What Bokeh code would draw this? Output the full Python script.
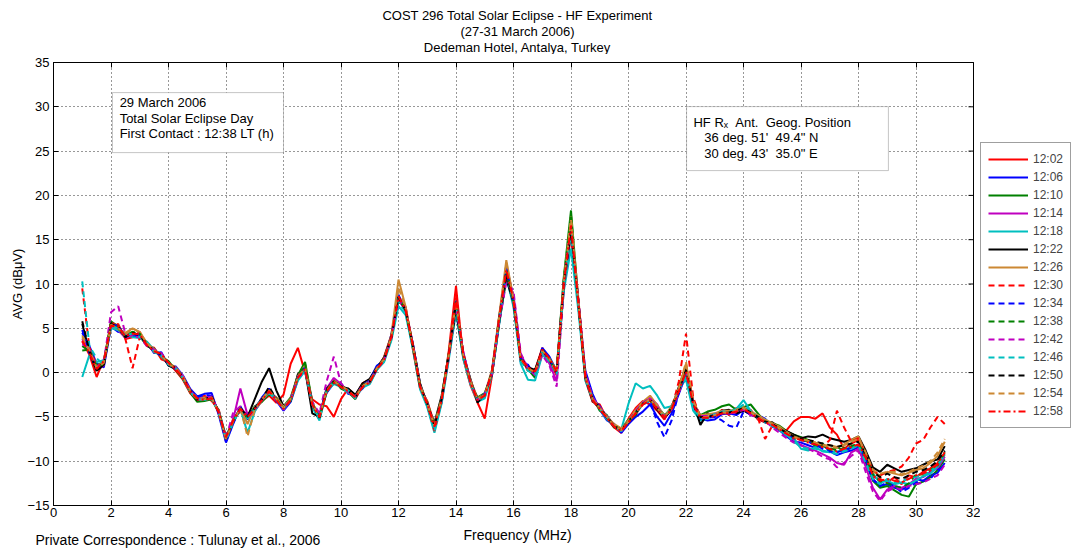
import numpy as np
from bokeh.plotting import figure
from bokeh.layouts import column, row
from bokeh.models import (Range1d, FixedTicker, LinearAxis, Legend, LegendItem,
                          Label, BoxAnnotation, CustomJSTickFormatter)
from bokeh.embed import file_html
from bokeh.resources import INLINE

# Frequency grid (MHz) shared by all spectra
freq_mhz = np.arange(1.0, 31.0001, 0.25)

time_labels = ["12:02", "12:06", "12:10", "12:14", "12:18", "12:22", "12:26", "12:30",
               "12:34", "12:38", "12:42", "12:46", "12:50", "12:54", "12:58"]

title_lines = ["COST 296 Total Solar Eclipse - HF Experiment",
               "(27-31 March 2006)",
               "Dedeman Hotel, Antalya, Turkey"]

# Average received level (dBuV) per sweep time
v1202 = [3.5, 2.0, -0.5, 1.5, 5.0, 5.5, 3.8, 4.0, 4.6, 3.0,
         2.8, 1.5, 1.2, 0.2, -0.8, -2.3, -3.2, -2.6, -3.2, -4.2,
         -7.8, -5.2, -4.4, -4.6, -4.3, -3.2, -2.6, -3.4, -2.5, 1.0,
         2.8, 0.0, -3.0, -3.6, -3.8, -5.0, -3.0, -1.8, -2.6, -1.2,
         -0.8, 0.3, 1.8, 4.2, 8.0, 7.4, 2.6, -1.8, -3.2, -5.8,
         -3.4, 2.5, 9.8, 1.6, -1.4, -3.4, -5.2, -0.4, 6.2, 11.8,
         7.6, 1.8, 0.2, 0.3, 2.8, 1.2, -0.3, 9.6, 15.5, 8.4,
         -0.8, -3.3, -3.6, -5.2, -6.2, -6.8, -5.2, -4.0, -3.2, -3.6,
         -4.3, -5.3, -3.7, -2.3, 0.5, -3.2, -5.3, -4.6, -5.0, -4.2,
         -4.8, -4.0, -4.3, -4.2, -5.3, -5.6, -6.0, -6.5, -6.5, -5.5,
         -5.0, -5.0, -5.2, -4.6, -6.2, -7.0, -8.6, -8.0, -7.6, -9.8,
         -11.8, -12.0, -12.4, -11.8, -12.6, -11.6, -11.8, -11.2, -10.8, -10.2,
         -9.3]
v1206 = [4.5, 3.0, 1.0, 0.6, 5.2, 4.6, 4.4, 4.2, 4.0, 3.4,
         2.2, 2.3, 0.8, 0.7, -0.3, -1.8, -2.7, -2.4, -2.3, -4.8,
         -7.9, -5.8, -3.8, -5.3, -4.2, -2.8, -1.8, -3.2, -4.3, -3.3,
         -0.8, 0.8, -3.8, -4.7, -2.3, -1.2, -1.2, -2.4, -2.6, -1.8,
         -0.8, 0.8, 1.3, 4.3, 8.8, 6.8, 3.3, -1.3, -3.8, -6.4,
         -3.3, 1.8, 7.6, 2.3, -0.8, -3.2, -2.8, 0.2, 5.7, 12.1,
         8.5, 1.2, 0.9, -0.4, 2.8, 1.8, 0.2, 10.4, 17.0, 7.6,
         0.2, -2.4, -4.2, -5.4, -5.8, -6.8, -5.8, -5.0, -4.4, -3.6,
         -5.0, -6.0, -4.6, -2.4, -0.2, -3.8, -5.2, -5.4, -5.3, -4.7,
         -4.6, -4.8, -4.2, -4.8, -4.8, -5.2, -6.1, -6.5, -7.2, -7.8,
         -7.9, -8.2, -8.5, -8.1, -8.9, -9.3, -9.0, -8.8, -8.4, -10.2,
         -12.0, -12.8, -12.6, -13.0, -13.2, -12.8, -12.0, -12.2, -11.6, -11.3,
         -10.2]
v1210 = [3.0, 2.4, 0.8, 1.2, 5.8, 5.2, 4.2, 4.6, 4.1, 3.0,
         2.7, 1.8, 1.3, 0.3, -0.7, -2.2, -3.3, -3.2, -3.0, -4.3,
         -7.2, -5.4, -4.2, -5.2, -3.8, -3.3, -2.4, -2.8, -3.8, -2.8,
         -0.3, 1.2, -3.3, -5.2, -2.2, -0.8, -1.8, -2.2, -3.0, -1.3,
         -1.2, 0.4, 1.6, 3.8, 8.2, 7.2, 2.8, -1.7, -3.3, -6.2,
         -2.8, 2.2, 7.8, 1.8, -1.2, -2.8, -2.3, -0.2, 6.3, 11.3,
         7.8, 1.7, 0.4, -0.6, 2.2, 1.6, 0.2, 10.8, 18.3, 8.3,
         -0.6, -2.8, -4.3, -4.8, -6.2, -6.3, -5.3, -4.8, -3.3, -3.2,
         -3.8, -4.8, -4.2, -2.2, 0.2, -3.6, -4.8, -4.4, -4.2, -3.8,
         -3.6, -4.2, -3.9, -3.6, -4.6, -5.6, -5.7, -6.0, -6.6, -7.0,
         -7.3, -7.6, -8.3, -8.0, -8.8, -8.4, -8.8, -8.5, -8.2, -10.0,
         -12.2, -13.0, -12.8, -13.3, -13.8, -14.0, -12.6, -12.3, -11.8, -11.0,
         -9.8]
v1214 = [3.2, 2.8, 0.3, 0.8, 5.3, 4.8, 3.9, 4.3, 4.4, 3.3,
         2.4, 2.1, 0.9, 0.6, -0.4, -1.9, -2.9, -2.9, -2.6, -4.6,
         -7.6, -5.3, -1.8, -4.8, -4.1, -2.9, -2.1, -2.9, -4.2, -3.1,
         -0.6, 0.3, -3.6, -4.8, -1.8, -0.6, -1.3, -2.1, -2.9, -1.6,
         -1.1, 0.6, 1.4, 4.1, 8.3, 6.9, 3.1, -1.4, -3.6, -6.3,
         -3.1, 1.9, 7.9, 2.2, -0.9, -2.9, -2.6, 0.1, 5.8, 11.0,
         8.8, 2.0, 0.6, -0.3, 2.3, 1.0, -1.0, 9.8, 16.2, 7.8,
         -0.3, -2.9, -3.9, -4.9, -5.9, -6.6, -5.6, -4.4, -3.3, -2.8,
         -3.6, -5.2, -4.1, -2.1, -0.3, -3.7, -5.1, -5.1, -4.9, -4.6,
         -4.6, -4.4, -4.1, -4.3, -5.1, -5.6, -5.9, -6.3, -7.0, -7.6,
         -8.2, -8.5, -8.8, -9.2, -9.6, -10.2, -10.4, -9.0, -8.6, -10.6,
         -13.0, -14.3, -13.2, -12.8, -13.0, -12.6, -12.0, -11.8, -11.2, -10.8,
         -9.5]
v1218 = [-0.5, 2.0, 1.2, 1.4, 5.0, 4.8, 4.3, 4.0, 3.9, 3.5,
         2.6, 1.8, 1.1, 0.4, -0.6, -2.1, -2.8, -3.1, -2.9, -4.4,
         -7.4, -5.6, -4.1, -6.8, -4.4, -3.1, -2.3, -3.1, -3.9, -3.2,
         -0.9, 0.2, -3.9, -5.4, -2.1, -1.3, -1.6, -2.3, -2.7, -1.7,
         -1.3, 0.3, 1.2, 3.6, 7.5, 6.5, 2.7, -1.9, -3.9, -6.8,
         -3.5, 1.5, 6.8, 1.6, -1.3, -3.3, -2.9, -0.3, 5.4, 10.8,
         7.4, 1.0, -0.8, -0.9, 2.0, 1.3, 0.1, 9.2, 14.0, 7.2,
         -0.9, -3.1, -4.1, -5.3, -6.0, -6.4, -3.5, -1.2, -1.8, -1.5,
         -2.6, -4.0, -3.8, -1.8, -0.8, -4.3, -5.4, -5.2, -4.6, -4.4,
         -4.4, -4.1, -3.1, -4.3, -5.2, -5.3, -6.0, -6.4, -7.1, -7.4,
         -8.6, -8.8, -8.4, -8.9, -9.0, -8.9, -8.8, -8.3, -8.2, -9.8,
         -11.4, -12.4, -12.2, -12.6, -12.4, -12.6, -12.2, -11.7, -11.4, -10.6,
         -9.2]
v1222 = [5.5, 2.3, 0.2, 0.9, 5.6, 5.1, 4.1, 4.4, 4.2, 3.1,
         2.5, 2.0, 0.8, 0.4, -0.5, -2.0, -3.1, -3.0, -2.7, -4.5,
         -7.5, -5.5, -4.0, -5.0, -3.0, -1.0, 0.5, -2.0, -3.8, -3.2,
         -0.2, 0.4, -4.6, -5.0, -1.8, -1.1, -1.6, -1.8, -2.5, -1.2,
         -0.7, 0.6, 1.7, 4.1, 8.4, 7.1, 3.2, -1.2, -3.6, -5.7,
         -2.6, 2.1, 7.0, 1.9, -0.7, -3.4, -2.4, -0.3, 5.6, 10.6,
         7.9, 1.7, 0.6, 0.3, 2.6, 1.4, 0.1, 9.8, 16.0, 8.2,
         -0.6, -3.2, -4.0, -5.1, -6.1, -6.5, -5.6, -4.6, -3.4, -3.1,
         -4.2, -5.1, -4.2, -1.6, 0.8, -3.3, -5.9, -4.6, -4.8, -4.3,
         -4.2, -4.6, -4.3, -4.7, -5.1, -5.6, -5.6, -6.2, -6.6, -7.0,
         -7.4, -7.2, -7.3, -7.0, -7.4, -7.6, -7.8, -7.6, -7.2, -8.8,
         -10.7, -11.2, -10.4, -10.8, -11.2, -11.0, -10.8, -10.4, -10.0, -9.8,
         -8.3]
v1226 = [4.2, 2.6, 0.6, 1.3, 5.4, 4.9, 4.5, 5.0, 4.6, 3.3,
         2.6, 1.9, 1.1, 0.6, -0.4, -2.1, -2.9, -2.8, -2.9, -4.4,
         -7.6, -5.4, -4.1, -5.8, -3.9, -3.1, -2.1, -2.8, -3.9, -2.9,
         -0.4, 0.8, -3.4, -4.9, -2.1, -0.9, -1.4, -2.1, -2.7, -1.4,
         -0.9, 0.5, 1.6, 4.2, 10.5, 7.4, 3.0, -1.4, -3.4, -5.9,
         -2.9, 2.2, 8.2, 2.1, -0.8, -2.9, -2.4, 0.3, 6.4, 12.7,
         8.3, 1.6, 0.4, 0.1, 2.4, 1.6, 0.2, 10.3, 17.6, 8.6,
         -0.4, -2.9, -4.0, -5.0, -5.8, -6.3, -5.4, -4.2, -3.3, -2.6,
         -3.7, -4.9, -3.8, -1.8, 1.0, -3.3, -4.8, -4.7, -4.6, -4.3,
         -4.3, -4.2, -3.9, -4.4, -4.8, -5.3, -5.7, -6.1, -6.7, -7.2,
         -7.5, -7.7, -7.9, -8.2, -8.2, -8.4, -8.1, -7.6, -7.2, -9.2,
         -11.2, -11.6, -11.2, -11.4, -11.6, -11.3, -11.0, -10.8, -10.2, -9.4,
         -7.8]
v1230 = [9.5, 2.8, 0.8, 1.0, 5.7, 5.2, 3.8, 0.5, 4.0, 3.3,
         2.3, 2.0, 1.0, 0.3, -0.6, -2.1, -3.1, -3.1, -2.9, -4.6,
         -7.4, -5.6, -4.1, -5.1, -4.1, -3.1, -2.2, -3.1, -4.1, -3.1,
         -0.6, 0.4, -3.6, -5.1, -2.1, -1.1, -1.6, -2.1, -2.9, -1.6,
         -1.1, 0.4, 1.4, 3.9, 8.6, 7.1, 3.1, -1.6, -3.6, -6.6,
         -3.1, 2.1, 8.6, 2.3, -1.1, -3.1, -2.6, -0.1, 5.9, 11.4,
         8.1, 1.4, 0.4, -0.1, 2.4, 1.4, -0.1, 10.1, 16.6, 8.1,
         -0.6, -3.1, -4.1, -5.1, -6.1, -6.6, -5.6, -4.6, -3.6, -3.1,
         -4.1, -5.1, -4.1, -1.0, 4.4, -2.8, -5.1, -5.1, -4.9, -4.6,
         -4.6, -4.4, -4.1, -4.6, -5.1, -7.5, -6.0, -6.4, -6.9, -7.4,
         -7.4, -7.9, -8.1, -8.4, -7.6, -4.3, -6.2, -7.8, -7.4, -9.2,
         -11.0, -11.6, -11.2, -11.0, -10.6, -9.6, -8.0, -7.6, -6.2, -5.0,
         -5.8]
v1234 = [4.8, 2.2, 0.4, 1.1, 5.4, 5.3, 4.1, 4.3, 4.2, 3.1,
         2.4, 1.9, 1.0, 0.4, -0.5, -1.9, -2.8, -2.5, -2.6, -4.6,
         -7.7, -5.7, -4.0, -4.9, -4.0, -3.0, -1.9, -3.0, -4.2, -3.0,
         -0.5, 0.6, -3.5, -4.9, -1.9, -1.0, -1.4, -2.0, -2.8, -1.4,
         -0.9, 0.7, 1.5, 4.0, 8.7, 7.0, 3.0, -1.5, -3.4, -6.2,
         -3.0, 2.0, 8.1, 2.0, -1.0, -3.0, -2.4, 0.0, 6.1, 11.7,
         8.0, 1.6, 0.5, -0.1, 2.5, 1.5, 0.0, 10.0, 16.4, 8.0,
         -0.5, -3.0, -3.8, -5.1, -6.1, -6.5, -5.5, -4.5, -3.6, -3.2,
         -5.6, -7.3, -5.4, -2.2, -0.2, -3.6, -5.2, -5.1, -5.0, -5.4,
         -6.0, -6.2, -4.4, -4.6, -5.0, -5.6, -5.8, -6.4, -6.8, -7.4,
         -7.6, -7.8, -8.1, -8.6, -8.9, -9.0, -8.7, -8.5, -8.1, -9.8,
         -12.1, -12.8, -12.4, -12.8, -13.5, -13.0, -12.4, -12.2, -12.0, -11.0,
         -10.5]
v1238 = [2.5, 2.6, 0.6, 1.0, 5.5, 5.0, 4.0, 4.6, 4.4, 3.2,
         2.5, 2.1, 1.0, 0.5, -0.5, -2.0, -3.0, -3.0, -2.8, -4.5,
         -7.5, -5.5, -4.0, -5.0, -4.0, -3.0, -2.0, -3.0, -4.0, -3.0,
         -0.5, 1.0, -3.5, -5.0, -2.0, -1.0, -1.5, -2.0, -2.8, -1.5,
         -1.0, 0.5, 1.5, 4.0, 8.5, 7.0, 3.0, -1.5, -3.5, -6.0,
         -3.0, 2.0, 8.0, 2.0, -1.0, -3.0, -2.5, 0.0, 6.0, 11.5,
         8.0, 1.5, 0.5, 0.0, 2.5, 1.5, 0.0, 10.5, 17.8, 8.0,
         -0.5, -3.0, -4.0, -5.0, -6.0, -6.5, -5.5, -4.5, -3.5, -3.0,
         -4.0, -5.0, -4.0, -2.0, 0.0, -3.5, -5.0, -5.0, -4.8, -4.5,
         -4.5, -4.3, -4.0, -4.5, -5.0, -5.5, -5.8, -6.3, -6.8, -7.3,
         -7.5, -7.8, -8.0, -8.3, -8.5, -8.8, -8.5, -8.3, -8.0, -9.5,
         -11.5, -12.3, -12.5, -12.8, -13.0, -12.5, -11.5, -11.5, -11.0, -10.5,
         -9.0]
v1242 = [3.8, 2.5, 0.6, 1.2, 6.8, 7.5, 4.4, 4.1, 4.0, 3.0,
         2.6, 2.2, 1.0, 0.5, -0.4, -2.0, -3.0, -2.9, -2.7, -4.4,
         -7.4, -4.5, -3.8, -5.1, -4.2, -3.1, -2.0, -3.2, -4.0, -3.0,
         -0.6, 0.2, -3.3, -4.6, -1.0, 1.8, -1.2, -2.2, -2.7, -1.5,
         -1.0, 0.4, 1.4, 3.9, 8.2, 7.2, 3.2, -1.6, -3.4, -6.1,
         -3.2, 1.6, 7.4, 2.4, -1.1, -3.1, -2.5, -0.2, 5.6, 10.2,
         9.2, 2.2, 0.5, -0.2, 2.0, 0.8, -1.6, 9.4, 16.2, 8.8,
         0.0, -2.8, -3.9, -5.0, -6.0, -6.6, -5.5, -4.3, -3.4, -2.9,
         -3.9, -4.9, -4.2, -2.3, 0.1, -3.4, -4.9, -4.9, -4.7, -4.4,
         -4.6, -4.5, -4.2, -4.8, -5.1, -5.4, -6.2, -6.8, -7.4, -7.9,
         -8.2, -8.6, -9.0, -9.5, -9.8, -10.7, -10.2, -9.4, -8.8, -11.2,
         -13.4, -14.5, -13.4, -13.0, -13.2, -12.8, -12.6, -12.4, -12.0, -11.6,
         -10.4]
v1246 = [10.3, 3.0, 1.6, 0.9, 5.3, 5.0, 4.2, 4.4, 4.0, 3.4,
         2.3, 1.9, 0.9, 0.5, -0.6, -2.2, -3.0, -3.1, -2.9, -4.6,
         -7.6, -5.6, -4.2, -5.2, -4.1, -3.0, -2.1, -3.1, -4.1, -3.1,
         -0.7, 0.3, -3.6, -5.3, -2.0, -1.1, -1.6, -2.0, -2.9, -1.6,
         -1.1, 0.4, 1.3, 3.8, 8.0, 6.8, 2.8, -1.7, -3.7, -6.6,
         -3.3, 1.8, 7.2, 1.8, -1.1, -3.1, -2.7, -0.2, 5.6, 11.2,
         7.8, 1.3, 0.2, -0.2, 2.3, 1.3, -0.2, 9.6, 15.8, 7.7,
         -0.7, -3.1, -4.0, -5.0, -6.1, -6.6, -5.5, -4.6, -3.6, -3.1,
         -4.0, -5.0, -3.9, -1.9, -0.5, -4.0, -5.2, -5.0, -4.7, -4.4,
         -4.4, -4.2, -3.6, -4.4, -5.0, -5.6, -6.0, -6.5, -7.0, -7.8,
         -8.4, -8.6, -8.6, -8.8, -9.0, -9.2, -8.9, -8.6, -8.2, -10.2,
         -12.0, -12.6, -12.0, -12.4, -12.2, -12.0, -11.8, -11.5, -11.2, -10.4,
         -9.4]
v1250 = [5.8, 2.4, 0.3, 0.8, 5.5, 5.1, 4.0, 4.5, 4.2, 3.2,
         2.5, 2.0, 1.0, 0.5, -0.5, -2.0, -3.0, -3.0, -2.7, -4.5,
         -7.5, -5.5, -4.0, -5.0, -4.0, -3.0, -1.6, -3.0, -4.0, -3.0,
         -0.5, 0.5, -3.5, -5.1, -2.0, -1.0, -1.5, -2.0, -2.8, -1.4,
         -1.0, 0.5, 1.5, 4.0, 8.5, 7.0, 3.0, -1.5, -3.5, -6.0,
         -3.0, 2.0, 7.8, 2.0, -1.0, -3.0, -2.5, 0.0, 6.0, 11.2,
         8.2, 1.5, 0.5, 0.0, 2.5, 1.5, 0.0, 10.0, 16.2, 8.2,
         -0.5, -3.0, -4.0, -5.0, -6.0, -6.5, -5.5, -4.5, -3.5, -3.0,
         -4.0, -5.0, -4.0, -2.0, 0.3, -3.5, -5.0, -5.0, -4.8, -4.5,
         -4.5, -4.3, -4.0, -4.5, -5.0, -5.5, -5.8, -6.3, -6.8, -7.2,
         -7.5, -7.6, -7.8, -8.0, -8.2, -8.4, -8.2, -8.0, -7.8, -9.2,
         -11.2, -11.8, -11.4, -11.8, -12.0, -11.6, -11.2, -11.0, -10.6, -10.0,
         -8.8]
v1254 = [4.0, 2.5, 0.5, 1.1, 5.4, 5.0, 4.3, 5.0, 4.5, 3.3,
         2.5, 2.0, 1.0, 0.5, -0.5, -2.0, -3.0, -3.0, -2.8, -4.5,
         -7.5, -5.5, -4.0, -7.2, -4.2, -3.0, -2.0, -3.0, -4.0, -3.0,
         -0.5, 0.5, -3.5, -5.0, -2.0, -1.0, -1.5, -2.0, -2.8, -1.5,
         -1.0, 0.5, 1.5, 4.0, 9.6, 7.2, 3.0, -1.5, -3.5, -6.0,
         -3.0, 2.0, 8.0, 2.0, -1.0, -3.0, -2.5, 0.0, 6.2, 12.4,
         8.2, 1.5, 0.5, 0.0, 2.5, 1.5, 0.0, 10.2, 17.2, 8.2,
         -0.5, -3.0, -4.0, -5.0, -6.0, -6.5, -5.5, -4.5, -3.5, -3.0,
         -4.0, -5.0, -4.0, -1.8, 1.2, -3.2, -5.0, -5.0, -4.8, -4.5,
         -4.5, -4.3, -4.0, -4.5, -5.0, -5.5, -5.8, -6.3, -6.8, -7.3,
         -7.5, -7.7, -7.9, -8.2, -8.4, -8.5, -8.2, -7.8, -7.5, -9.0,
         -11.0, -11.4, -11.2, -11.2, -11.5, -11.2, -10.8, -10.5, -10.0, -9.0,
         -7.5]
v1258 = [3.6, 2.2, 0.4, 1.3, 5.3, 5.2, 4.1, 4.4, 4.3, 3.1,
         2.4, 2.1, 1.1, 0.4, -0.6, -2.1, -2.9, -3.1, -2.9, -4.5,
         -7.3, -5.4, -4.1, -5.0, -4.1, -3.1, -2.1, -3.1, -4.1, -3.1,
         -0.6, 0.4, -3.6, -5.0, -2.1, -1.1, -1.6, -2.1, -2.8, -1.6,
         -1.1, 0.4, 1.4, 4.0, 8.6, 7.0, 3.1, -1.6, -3.5, -6.1,
         -3.1, 2.1, 8.4, 2.1, -1.1, -3.1, -2.6, 0.1, 6.1, 11.6,
         8.1, 1.6, 0.6, 0.1, 2.6, 1.6, 0.1, 10.1, 16.6, 8.1,
         -0.6, -3.1, -4.1, -5.1, -6.1, -6.6, -5.6, -4.6, -3.6, -3.1,
         -4.1, -5.1, -4.1, -2.1, 0.1, -3.6, -5.1, -5.1, -4.9, -4.6,
         -4.6, -4.4, -4.1, -4.6, -5.1, -5.6, -5.9, -6.4, -6.9, -7.4,
         -7.6, -7.9, -8.1, -8.4, -8.6, -8.9, -8.6, -8.4, -8.1, -9.6,
         -11.6, -12.2, -12.0, -12.2, -12.4, -12.0, -11.6, -11.4, -11.0, -10.4,
         -9.0]

series_values = [v1202, v1206, v1210, v1214, v1218, v1222, v1226, v1230,
                 v1234, v1238, v1242, v1246, v1250, v1254, v1258]

RED, BLUE, GREEN, PURPLE, CYAN, BLACK, ORANGE = (
    "#ff0000", "#0000ff", "#008000", "#bf00bf", "#00bfbf", "#000000", "#cc8833")
line_colors = [RED, BLUE, GREEN, PURPLE, CYAN, BLACK, ORANGE,
               RED, BLUE, GREEN, PURPLE, CYAN, BLACK, ORANGE, RED]
line_dashes = ["solid"] * 7 + ["6 4"] * 7 + ["7 3 2 3"]

x_ticks = list(range(0, 33, 2))
y_ticks = list(range(-15, 36, 5))

X_MIN, X_MAX, Y_MIN, Y_MAX = 0, 32, -15, 35
PAGE_W, PAGE_H = 1071, 548
FRAME_W, FRAME_H = 920, 443
HEAD_H = 54
BORDER_L, BORDER_T, BORDER_R, BORDER_B = 53, 8, 7, 20
MAIN_H = BORDER_T + FRAME_H + BORDER_B
LEGEND_W = PAGE_W - (BORDER_L + FRAME_W + BORDER_R)
FOOT_H = PAGE_H - HEAD_H - MAIN_H
CENTER_X = BORDER_L + FRAME_W / 2 + 4
FONT = "Liberation Sans"
NB = "\u00a0"


def text_strip(height):
    """A blank full-width band whose data units are pixels, for text rows."""
    f = figure(width=PAGE_W, height=height, output_backend="svg", toolbar_location=None,
               x_axis_location=None, y_axis_location=None,
               x_range=Range1d(0, PAGE_W), y_range=Range1d(0, height), min_border=0,
               background_fill_color="white", border_fill_color="white")
    f.outline_line_color = None
    f.grid.visible = False
    return f


# ---- header: three centred title lines ----
head = text_strip(HEAD_H)
for i, line in enumerate(title_lines):
    head.add_layout(Label(x=CENTER_X, y=HEAD_H - 15 - 16 * i, text=line,
                          text_align="center", text_baseline="middle",
                          text_font=FONT, text_font_size="13px", text_color="black"))

# ---- main axes ----
p = figure(output_backend="svg", toolbar_location=None,
           x_range=Range1d(X_MIN, X_MAX), y_range=Range1d(Y_MIN, Y_MAX),
           frame_width=FRAME_W, frame_height=FRAME_H,
           min_border_left=BORDER_L, min_border_right=BORDER_R,
           min_border_top=BORDER_T, min_border_bottom=BORDER_B,
           background_fill_color="white", border_fill_color="white")
p.outline_line_color = "black"
p.outline_line_width = 1

for ax in (p.xaxis[0], p.yaxis[0]):
    ax.major_tick_in = 5
    ax.major_tick_out = 0
    ax.minor_tick_in = 0
    ax.minor_tick_out = 0
    ax.axis_line_color = "black"
    ax.major_tick_line_color = "black"
    ax.major_label_text_font = FONT
    ax.major_label_text_font_size = "13px"
    ax.major_label_text_color = "black"
p.xaxis.ticker = FixedTicker(ticks=x_ticks)
p.yaxis.ticker = FixedTicker(ticks=y_ticks)
p.xaxis.major_label_standoff = 2
p.yaxis.major_label_standoff = 4
p.yaxis.axis_label = "AVG (dBμV)"
p.yaxis.axis_label_text_font = FONT
p.yaxis.axis_label_text_font_size = "13px"
p.yaxis.axis_label_text_font_style = "normal"
p.yaxis.axis_label_text_color = "black"
p.yaxis.axis_label_standoff = -1

# inward ticks along the top edge, no labels there
top_ax = LinearAxis(ticker=FixedTicker(ticks=x_ticks),
                    formatter=CustomJSTickFormatter(code="return ''"),
                    major_tick_in=5, major_tick_out=0, minor_tick_in=0, minor_tick_out=0,
                    major_label_standoff=0, axis_line_color="black",
                    major_tick_line_color="black")
p.add_layout(top_ax, "above")

# inward ticks along the right edge (5 px long)
tick_len_x = 5 * (X_MAX - X_MIN) / FRAME_W
p.segment(x0=[X_MAX] * len(y_ticks), x1=[X_MAX - tick_len_x] * len(y_ticks),
          y0=y_ticks, y1=y_ticks, line_color="black", line_width=1)

p.xgrid.ticker = FixedTicker(ticks=x_ticks)
p.ygrid.ticker = FixedTicker(ticks=y_ticks)
for g in (p.xgrid[0], p.ygrid[0]):
    g.grid_line_color = "#303030"
    g.grid_line_dash = "1 3"
    g.grid_line_width = 1

for vals, col, dash in zip(series_values, line_colors, line_dashes):
    p.line(freq_mhz, vals, line_color=col, line_width=2, line_dash=dash)

# annotation boxes
p.add_layout(BoxAnnotation(left=2.05, right=8.0, top=31.6, bottom=24.83,
                           fill_color="white", fill_alpha=1.0,
                           line_color="#404040", line_width=1))
p.add_layout(Label(x=2.3, y=31.3, anchor="top_left",
                   text="29 March 2006\nTotal Solar Eclipse Day\nFirst Contact : 12:38 LT (h)",
                   text_font=FONT, text_font_size="13px", text_line_height=1.04,
                   text_color="black"))
p.add_layout(BoxAnnotation(left=22.02, right=29.04, top=30.02, bottom=22.8,
                           fill_color="white", fill_alpha=1.0,
                           line_color="#404040", line_width=1))
p.add_layout(Label(x=22.26, y=29.12, anchor="top_left",
                   text=("HF Rₓ" + NB * 2 + "Ant." + NB * 2 + "Geog. Position\n"
                         + NB * 3 + "36 deg. 51'" + NB * 2 + "49.4\" N\n"
                         + NB * 3 + "30 deg. 43'" + NB * 2 + "35.0\" E"),
                   text_font=FONT, text_font_size="13px", text_line_height=1.04,
                   text_color="black"))

# ---- legend column to the right of the axes ----
leg_fig = figure(width=LEGEND_W, height=MAIN_H, output_backend="svg",
                 toolbar_location=None, x_axis_location=None, y_axis_location=None,
                 x_range=Range1d(100, 101), y_range=Range1d(100, 101), min_border=0,
                 background_fill_color="white", border_fill_color="white")
leg_fig.outline_line_color = None
leg_fig.grid.visible = False
items = []
for lbl, vals, col, dash in zip(time_labels, series_values, line_colors, line_dashes):
    # same spectra, outside this panel's view: only their legend keys show
    proxy = leg_fig.line(freq_mhz, vals, line_color=col, line_width=2, line_dash=dash)
    items.append(LegendItem(label=lbl, renderers=[proxy]))
legend = Legend(items=items, location=(0, 77), orientation="vertical",
                label_text_font=FONT, label_text_font_size="12px",
                label_height=18, glyph_height=18, glyph_width=40, spacing=0,
                padding=7, margin=0, label_standoff=5,
                border_line_color="#404040", border_line_width=1,
                background_fill_color="white", background_fill_alpha=1.0)
leg_fig.add_layout(legend)

# ---- footer strip: axis title and source note ----
foot = text_strip(FOOT_H)
foot.add_layout(Label(x=CENTER_X, y=FOOT_H - 9,
                      text="Frequency (MHz)", text_align="center", text_baseline="middle",
                      text_font=FONT, text_font_size="14px", text_color="black"))
foot.add_layout(Label(x=35, y=FOOT_H - 14,
                      text="Private Correspondence : Tulunay et al., 2006",
                      text_align="left", text_baseline="middle",
                      text_font=FONT, text_font_size="14px", text_color="black"))

page = column(head, row(p, leg_fig, spacing=0), foot, spacing=0)
open("out.html", "w").write(file_html(page, INLINE))
